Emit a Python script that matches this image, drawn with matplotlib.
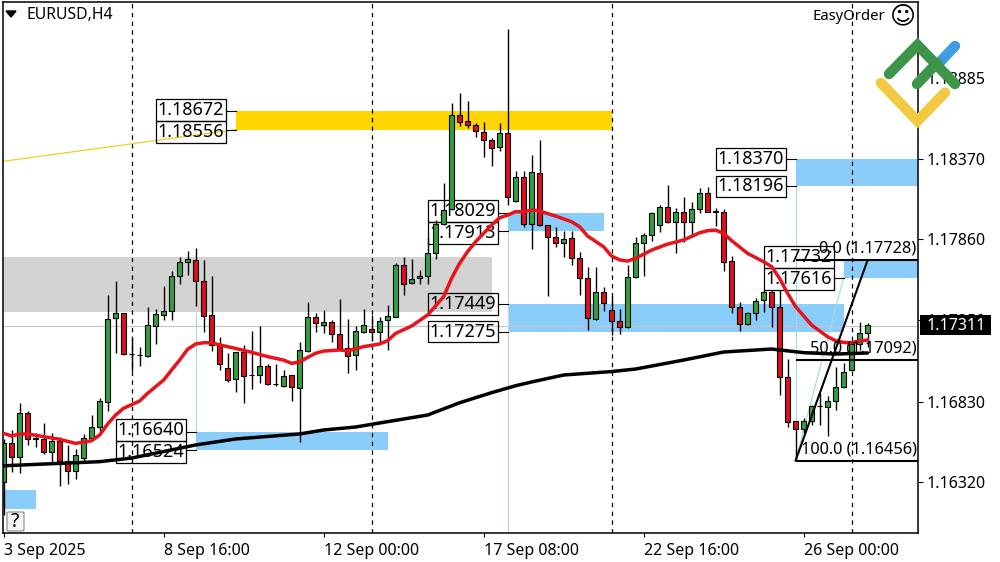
import matplotlib
matplotlib.use("Agg")
import matplotlib.pyplot as plt
import numpy as np
from matplotlib.lines import Line2D
from matplotlib.patches import FancyBboxPatch, Polygon, Rectangle

plt.rcParams['font.family'] = ['Noto Sans', 'DejaVu Sans']

# EURUSD H4 candles
opens = [1.16318,1.16565,1.16481,1.16756,1.16597,1.16591,1.16513,1.16578,1.16455,1.16392,
         1.16474,1.16597,1.16667,1.16830,1.17359,1.17390,1.17134,1.17128,1.17122,1.17312,
         1.17382,1.17403,1.17625,1.17714,1.17727,1.17594,1.17378,1.17187,1.17041,1.16972,
         1.17147,1.16999,1.16997,1.17058,1.16944,1.16931,1.16997,1.16915,1.17154,1.17365,
         1.17319,1.17333,1.17257,1.17168,1.17124,1.17274,1.17289,1.17270,1.17346,1.17369,
         1.17695,1.17581,1.17613,1.17625,1.17771,1.17958,1.18051,1.18647,1.18609,1.18584,
         1.18544,1.18489,1.18444,1.18533,1.18101,1.18254,1.17958,1.18279,1.17949,1.17873,
         1.17835,1.17867,1.17740,1.17613,1.17352,1.17528,1.17412,1.17344,1.17306,1.17619,
         1.17839,1.17886,1.17953,1.18063,1.17968,1.18032,1.17972,1.18051,1.18152,1.18038,
         1.18032,1.17721,1.17431,1.17325,1.17390,1.17475,1.17524,1.17429,1.16984,1.16705,
         1.16654,1.16709,1.16800,1.16798,1.16836,1.16925,1.17031,1.17196,1.17268]
highs = [1.16590,1.16650,1.16819,1.16771,1.16629,1.16697,1.16629,1.16608,1.16555,1.16529,
         1.16625,1.16745,1.16851,1.17507,1.17596,1.17390,1.17232,1.17179,1.17429,1.17416,
         1.17564,1.17659,1.17746,1.17786,1.17803,1.17729,1.17627,1.17238,1.17137,1.17147,
         1.17190,1.17278,1.17310,1.17067,1.17067,1.17031,1.16997,1.17206,1.17465,1.17395,
         1.17412,1.17348,1.17479,1.17355,1.17310,1.17418,1.17380,1.17369,1.17443,1.17708,
         1.17746,1.17735,1.17665,1.17867,1.17983,1.18216,1.18723,1.18787,1.18738,1.18596,
         1.18603,1.18501,1.18601,1.19193,1.18296,1.18296,1.18395,1.18491,1.17949,1.17941,
         1.17915,1.17915,1.17782,1.17687,1.17682,1.17560,1.17501,1.17416,1.17697,1.17877,
         1.17903,1.18036,1.18078,1.18205,1.18057,1.18127,1.18099,1.18184,1.18190,1.18057,
         1.18053,1.17754,1.17462,1.17401,1.17486,1.17539,1.17539,1.17539,1.17099,1.16705,
         1.16724,1.16809,1.16883,1.16866,1.17052,1.17073,1.17200,1.17338,1.17331]
lows = [1.16110,1.16386,1.16379,1.16555,1.16544,1.16498,1.16445,1.16295,1.16307,1.16339,
        1.16438,1.16591,1.16646,1.16773,1.17141,1.17126,1.17027,1.17056,1.17116,1.17196,
        1.17348,1.17348,1.17577,1.17634,1.17437,1.17274,1.17153,1.17031,1.16957,1.16893,
        1.16824,1.16910,1.16950,1.16934,1.16929,1.16925,1.16836,1.16576,1.17147,1.17274,
        1.17268,1.17211,1.17162,1.17010,1.17031,1.17268,1.17217,1.17211,1.17158,1.17365,
        1.17507,1.17577,1.17577,1.17577,1.17737,1.17951,1.18046,1.18580,1.18565,1.18512,
        1.18385,1.18328,1.18423,1.18078,1.18097,1.17936,1.17801,1.17945,1.17501,1.17814,
        1.17750,1.17697,1.17507,1.17285,1.17348,1.17407,1.17253,1.17259,1.17295,1.17613,
        1.17628,1.17852,1.17907,1.17966,1.17771,1.17845,1.17877,1.18029,1.18032,1.17945,
        1.17661,1.17390,1.17280,1.17316,1.17348,1.17401,1.17306,1.16872,1.16667,1.16456,
        1.16629,1.16682,1.16682,1.16614,1.16777,1.16914,1.17027,1.17158,1.17179]
closes = [1.16565,1.16481,1.16756,1.16591,1.16595,1.16513,1.16578,1.16455,1.16392,1.16489,
          1.16597,1.16667,1.16832,1.17352,1.17390,1.17132,1.17132,1.17126,1.17314,1.17384,
          1.17403,1.17625,1.17714,1.17733,1.17594,1.17371,1.17187,1.17069,1.16967,1.17147,
          1.16995,1.16997,1.17056,1.16944,1.16942,1.16991,1.16921,1.17156,1.17365,1.17331,
          1.17333,1.17257,1.17173,1.17118,1.17276,1.17314,1.17270,1.17340,1.17371,1.17697,
          1.17579,1.17606,1.17625,1.17771,1.17958,1.18044,1.18647,1.18607,1.18584,1.18546,
          1.18489,1.18438,1.18533,1.18127,1.18254,1.17958,1.18285,1.17949,1.17873,1.17835,
          1.17864,1.17740,1.17613,1.17359,1.17528,1.17454,1.17344,1.17306,1.17619,1.17839,
          1.17886,1.18025,1.18063,1.17970,1.18032,1.17968,1.18051,1.18152,1.18036,1.18036,
          1.17718,1.17429,1.17325,1.17390,1.17471,1.17524,1.17429,1.16984,1.16703,1.16654,
          1.16709,1.16802,1.16802,1.16836,1.16925,1.17016,1.17196,1.17268,1.17314]

# moving averages, read at some bars only
red_bars = [0,1,2,3,5,7,9,11,12,13,14,15,17,18,20,21,22,23,24,25,26,27,29,31,33,35,36,37,38,39,
            40,42,43,45,47,48,49,51,53,55,56,57,58,59,60,61,62,63,64,65,66,67,69,71,72,73,75,
            76,77,78,79,81,83,85,87,88,89,90,91,93,95,96,97,98,99,101,103,104,105,106,107,108]
red_ma = [1.16629,1.16612,1.16625,1.16625,1.16608,1.16591,1.16565,1.16582,1.16618,1.16688,
          1.16745,1.16788,1.16834,1.16883,1.16967,1.17031,1.17094,1.17162,1.17196,1.17204,
          1.17204,1.17190,1.17168,1.17143,1.17116,1.17094,1.17073,1.17082,1.17111,1.17137,
          1.17151,1.17158,1.17153,1.17179,1.17196,1.17217,1.17263,1.17310,1.17380,1.17496,
          1.17613,1.17708,1.17782,1.17845,1.17898,1.17951,1.17997,1.18014,1.18036,1.18034,
          1.18046,1.18040,1.18008,1.17972,1.17940,1.17881,1.17813,1.17754,1.17730,1.17722,
          1.17740,1.17792,1.17830,1.17856,1.17902,1.17915,1.17919,1.17898,1.17852,1.17771,
          1.17718,1.17687,1.17612,1.17517,1.17433,1.17316,1.17242,1.17217,1.17206,1.17204,
          1.17215,1.17221]
black_bars = [0,12,16,24,29,37,40,44,48,53,57,61,64,66,70,76,79,85,90,96,100,104,108]
black_ma = [1.16423,1.16449,1.16472,1.16555,1.16593,1.16625,1.16650,1.16669,1.16703,1.16745,
            1.16823,1.16887,1.16931,1.16955,1.16999,1.17021,1.17037,1.17094,1.17145,1.17164,
            1.17141,1.17132,1.17139]

# zones: low, high, first bar, last bar (None = runs to the chart edge)
zone_low = [1.16524,1.16149,1.17913,1.17275,1.18196,1.17616]
zone_high = [1.16640,1.16269,1.18029,1.17449,1.18370,1.17732]
zone_start = [24,None,63,63,99,105]
zone_end = [48,4,75,105,None,None]
gold_low, gold_high, gold_start, gold_end = 1.18556, 1.18672, 29, 76
grey_low, grey_high, grey_end = 1.17399, 1.17748, 61
trend_start = 1.18355

# boxes: price, bar the zone starts on, nudge in px so that pairs do not touch
box_prices = [1.18672,1.18556,1.16640,1.16524,1.18029,1.17913,1.17449,1.17275,1.18370,1.18196,1.17732,1.17616]
box_bars = [29,29,24,24,63,63,63,63,99,99,105,105]
box_nudge = [1.5,-2,1.5,-2,1.5,-2,0,0,0,0,2.5,-1]

fib_levels = ["0.0","50.0","100.0"]
fib_prices = [1.17728,1.17092,1.16456]
fib_bar = 99
fib_end_bar = 108

price_ticks = [1.18885,1.18370,1.17860,1.17350,1.16830,1.16320]
date_ticks = [0,20,40,60,80,100]
date_labels = ["3 Sep 2025","8 Sep 16:00","12 Sep 00:00","17 Sep 08:00","22 Sep 16:00","26 Sep 00:00"]
period_bars = [16,46,76,106]
last_price = 1.17311

W, H = 1000, 562
GREEN, RED, BLUE, PALE = '#31a03d', '#da121a', '#8accfa', '#a5d8e6'
TICK = 11.5

fig = plt.figure(figsize=(W/100, H/100), dpi=100)
ax = fig.add_axes([2.5/W, (H-533)/H, 915.5/W, 531/H])
ax.set_xlim((2.5-3.6)/8, (918-3.6)/8)
ax.set_ylim(1.159963, 1.193666)
xmin, xmax = ax.get_xlim()

# zones
ax.add_patch(Rectangle((xmin, grey_low), grey_end-xmin, grey_high-grey_low, color='#d3d3d3', lw=0, zorder=1))
for lo, hi, s, e in zip(zone_low, zone_high, zone_start, zone_end):
    x0 = xmin if s is None else s
    x1 = xmax if e is None else e
    ax.add_patch(Rectangle((x0, lo), x1-x0, hi-lo, color=BLUE, lw=0, zorder=1))
ax.add_patch(Rectangle((gold_start, gold_low), gold_end-gold_start, gold_high-gold_low, color='#ffd500', lw=0, zorder=1))

# thin lines
ax.axhline(last_price, color='#c4c4c4', lw=0.8, zorder=1.2)
ax.plot([xmin, gold_start], [trend_start, gold_low], color='#f0d020', lw=0.9, zorder=1.3)
ax.plot([24,24], [1.17390, zone_high[0]], color=PALE, lw=0.8, zorder=1.2)
ax.plot([63,63], [zone_low[2], ax.get_ylim()[0]], color='#c8d4d8', lw=0.9, zorder=1.2)
ax.plot([99,99], [zone_low[4], fib_prices[2]], color=PALE, lw=0.8, zorder=1.2)
ax.plot([99,105], [fib_prices[2], zone_low[5]], color=PALE, lw=0.8, zorder=1.2)

# price boxes (no fill, the chart stays visible through them)
for p, b, n in zip(box_prices, box_bars, box_nudge):
    ax.plot([b-1.2, b], [p, p], color='black', lw=0.8, zorder=1.5)
    ax.annotate(f"{p:.5f}", xy=(b, p), xytext=(-11.4*0.72, n*0.72), textcoords='offset points',
                ha='right', va='center', fontsize=13, zorder=1.6,
                bbox=dict(boxstyle='square,pad=0.1', fc='none', ec='black', lw=0.9))

# dashed period separators
for b in period_bars:
    ax.axvline(b, color='black', lw=0.9, ls=(0, (3.5, 3.5)), zorder=1.7)

# candles
idx = np.arange(len(opens))
o, h, l, c = map(np.array, (opens, highs, lows, closes))
ax.vlines(idx, l, h, color='black', lw=1, zorder=2)
colors = [GREEN if cc >= oo else RED for oo, cc in zip(o, c)]
ax.bar(idx, np.abs(c-o), bottom=np.minimum(o, c), width=0.62, color=colors,
       edgecolor='black', linewidth=0.8, zorder=2.1)

# moving averages
ax.plot(black_bars, black_ma, color='black', lw=2.5, zorder=3, solid_capstyle='round')
ax.plot(red_bars, red_ma, color='#e8131b', lw=2.5, zorder=3.1, solid_capstyle='round')

# fibo
for name, p in zip(fib_levels, fib_prices):
    ax.plot([fib_bar, xmax], [p, p], color='black', lw=1.5, zorder=3.2, solid_capstyle='butt')
    ax.annotate(f"{name} ({p:.5f})", xy=(xmax, p), xytext=(-1, 2.5), textcoords='offset points',
                ha='right', va='bottom', fontsize=11.8, zorder=3.3)
ax.plot([fib_bar, fib_end_bar], [fib_prices[2], fib_prices[0]], color='black', lw=1.5, zorder=3.2)

# axes
ax.yaxis.tick_right()
ax.set_yticks(price_ticks)
ax.set_yticklabels([f"{p:.5f}" for p in price_ticks], fontsize=TICK)
ax.tick_params(axis='y', length=3.5, width=0.8, pad=3)
ax.set_xticks(date_ticks)
ax.set_xticklabels(date_labels, fontsize=TICK, ha='left')
ax.tick_params(axis='x', length=3, width=0.8, pad=4)
for s in ax.spines.values():
    s.set_linewidth(1.1)

# last price tag, covers the tick label under it
tag_y = H - ax.transData.transform((0, last_price))[1]
fig.add_artist(Rectangle((920/W, 1-(tag_y+9)/H), 71/W, 19.5/H, transform=fig.transFigure,
                         fc='black', ec='none', zorder=5))
fig.text(927/W, 1-tag_y/H, f"{last_price:.5f}", color='white', fontsize=TICK,
         ha='left', va='center', zorder=6)

# corner texts
fig.text(26/W, 1-15/H, "EURUSD,H4", fontsize=11.4, ha='left', va='center', zorder=7)
fig.add_artist(Polygon([(6/W, 1-11/H), (16/W, 1-11/H), (11/W, 1-17/H)], closed=True, color='black', transform=fig.transFigure))
fig.text(885/W, 1-16/H, "EasyOrder", fontsize=10.7, ha='right', va='center', zorder=7)
fig.text(903/W, 1-16/H, "\u263a", fontsize=18, ha='center', va='center', family='DejaVu Sans', zorder=7)

# help button
fig.add_artist(FancyBboxPatch((7/W, 1-531/H), 17/W, 19/H, boxstyle='round,pad=0,rounding_size=0.002',
                              transform=fig.transFigure, fc='#f4f4f4', ec='#8a8a8a', lw=0.8))
fig.text(15/W, 1-522/H, "?", fontsize=14, ha='center', va='center', zorder=7)

# logo on top
def logo_stroke(pts, col):
    xs = [p[0]/W for p in pts]
    ys = [1-p[1]/H for p in pts]
    fig.add_artist(Line2D(xs, ys, color=col, lw=7.5, solid_capstyle='round', solid_joinstyle='miter',
                          transform=fig.transFigure, zorder=8))

logo_stroke([(955,46),(940,62)], '#3f9de3')
logo_stroke([(881,83),(917.5,121),(945,92.5)], '#f2c940')
logo_stroke([(889,74),(917.5,45),(955,84)], '#3c9549')
logo_stroke([(917,84),(937,63)], '#3c9549')

fig.savefig("out.png", dpi=100)
